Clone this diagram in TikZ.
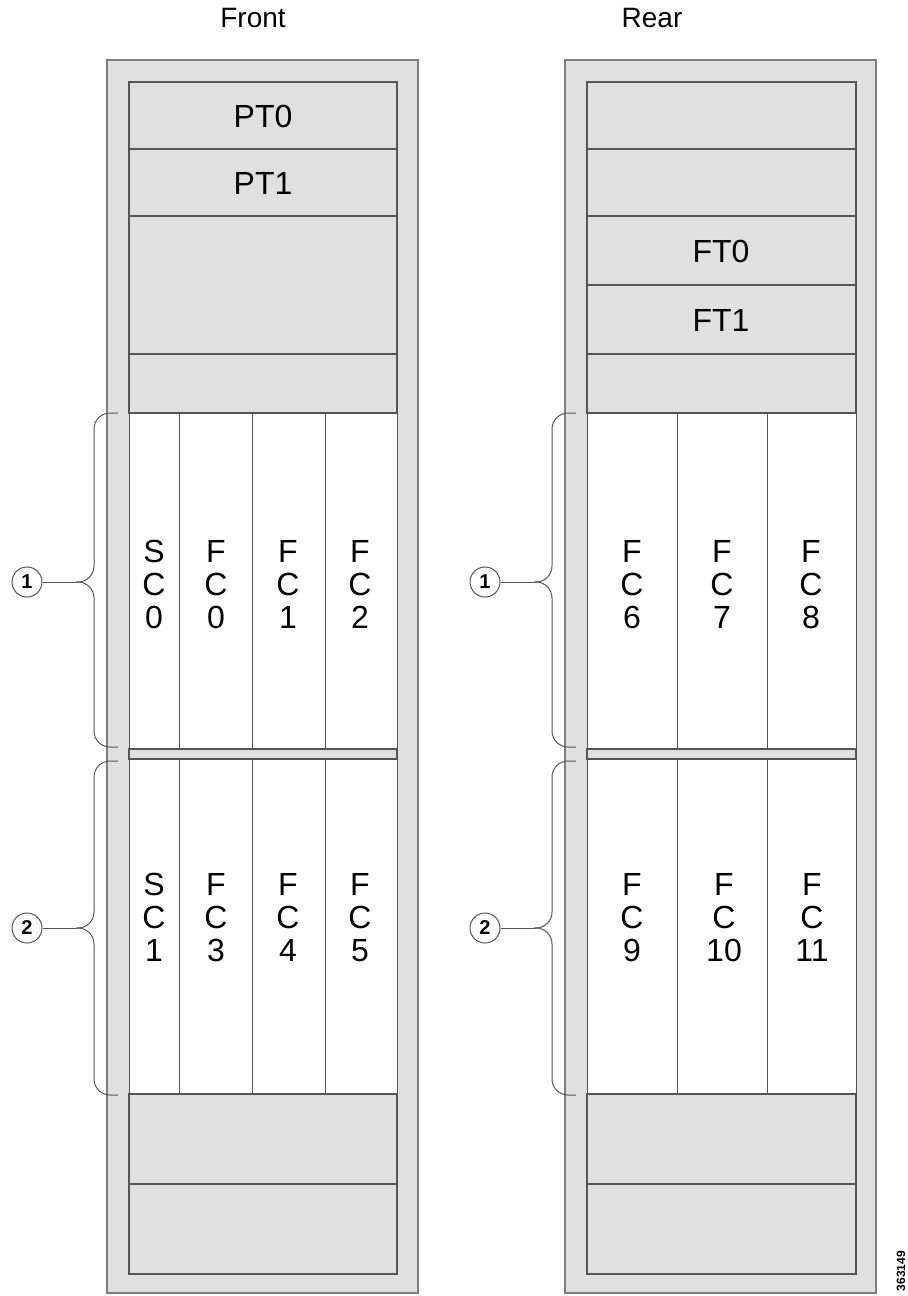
\documentclass[tikz,border=0pt]{standalone}
\usepackage{fontspec}
\setmainfont{Liberation Sans}
\usetikzlibrary{positioning}
\definecolor{panelgray}{RGB}{224,224,224}
\definecolor{edgegray} {RGB}{125,125,125}
\definecolor{linegray} {RGB}{85, 85, 85}

\begin{document}
\begin{tikzpicture}[x=0.5pt, y=-0.5pt,
  chassis/.style={fill=panelgray, draw=edgegray, line width=0.8pt},
  tray/.style={fill=panelgray, draw=linegray, line width=0.6pt},
  slot/.style={fill=white, draw=linegray, line width=0.5pt},
  label/.style={font=\fontsize{16}{16.5}\selectfont, align=center, inner sep=0pt},
  title/.style={font=\fontsize{14}{16}\selectfont, inner sep=0pt},
  callout/.style={circle, draw=linegray, line width=0.5pt, minimum size=15pt,
    inner sep=0pt, font=\fontsize{10}{10}\selectfont\bfseries},
  brace/.style={draw=linegray, line width=0.5pt, rounded corners=8pt}]
  \useasboundingbox (0,0) rectangle (907,1296);
  % titles
  \node[title] (front) at (253,18) {Front};
  \node[title] (rear)  at (652,18) {Rear};
  % front chassis
  \draw[chassis] (107,60) rectangle (418,1293);
  \draw[tray] (129,82)  rectangle (397,149);
  \draw[tray] (129,149) rectangle (397,216);
  \draw[tray] (129,216) rectangle (397,354);
  \draw[tray] (129,354) rectangle (397,413);
  \foreach \xa/\xb in {129/179, 179/252, 252/325, 325/397} {
    \draw[slot] (\xa,413) rectangle (\xb,749);
    \draw[slot] (\xa,759) rectangle (\xb,1094);
  }
  \draw[tray] (129,749)  rectangle (397,759);
  \draw[tray] (129,1094) rectangle (397,1184);
  \draw[tray] (129,1184) rectangle (397,1274);
  \node[label] (pt0) at (263,116) {PT0};
  \node[label] (pt1) at (263,183) {PT1};
  \foreach \x/\a/\n/\nm in {154/S/0/sc0, 216/F/0/fc0, 288/F/1/fc1, 360/F/2/fc2}
    \node[label] (\nm) at (\x,589) {\strut\a\\C\\\n\strut};
  \foreach \x/\a/\n/\nm in {154/S/1/sc1, 216/F/3/fc3, 288/F/4/fc4, 360/F/5/fc5}
    \node[label] (\nm) at (\x,922) {\strut\a\\C\\\n\strut};
  % rear chassis
  \draw[chassis] (565,60) rectangle (876,1293);
  \draw[tray] (587,82)  rectangle (856,149);
  \draw[tray] (587,149) rectangle (856,216);
  \draw[tray] (587,216) rectangle (856,285);
  \draw[tray] (587,285) rectangle (856,354);
  \draw[tray] (587,354) rectangle (856,413);
  \foreach \xa/\xb in {587/677, 677/767, 767/856} {
    \draw[slot] (\xa,413) rectangle (\xb,749);
    \draw[slot] (\xa,759) rectangle (\xb,1094);
  }
  \draw[tray] (587,749)  rectangle (856,759);
  \draw[tray] (587,1094) rectangle (856,1184);
  \draw[tray] (587,1184) rectangle (856,1274);
  \node[label] (ft0) at (721,251) {FT0};
  \node[label] (ft1) at (721,320) {FT1};
  \foreach \x/\n/\nm in {632/6/fc6, 722/7/fc7, 811/8/fc8}
    \node[label] (\nm) at (\x,589) {\strut F\\C\\\n\strut};
  \foreach \x/\n/\nm in {632/9/fc9, 724/10/fc10, 812/11/fc11}
    \node[label] (\nm) at (\x,922) {\strut F\\C\\\n\strut};
  % braces and callouts (front, then rear)
  \foreach \dx in {0,458} {
    \coordinate (tipa-\dx) at ({76+\dx},582);
    \coordinate (tipb-\dx) at ({76+\dx},928);
    \draw[brace] ({118+\dx},413) -- ({94+\dx},413) -- ({94+\dx},582) -- (tipa-\dx);
    \draw[brace] ({118+\dx},747) -- ({94+\dx},747) -- ({94+\dx},582) -- (tipa-\dx);
    \draw[brace] ({118+\dx},761) -- ({94+\dx},761) -- ({94+\dx},928) -- (tipb-\dx);
    \draw[brace] ({118+\dx},1095) -- ({94+\dx},1095) -- ({94+\dx},928) -- (tipb-\dx);
    \node[callout] (one-\dx) at ({27+\dx},582) {1};
    \node[callout] (two-\dx) at ({27+\dx},928) {2};
    \draw[linegray, line width=0.5pt] (one-\dx) -- (tipa-\dx);
    \draw[linegray, line width=0.5pt] (two-\dx) -- (tipb-\dx);
  }
  % figure number
  \node[rotate=90, inner sep=0pt, font=\fontsize{6}{6}\selectfont\bfseries] (fignum) at (901,1271) {363149};
\end{tikzpicture}
\end{document}
